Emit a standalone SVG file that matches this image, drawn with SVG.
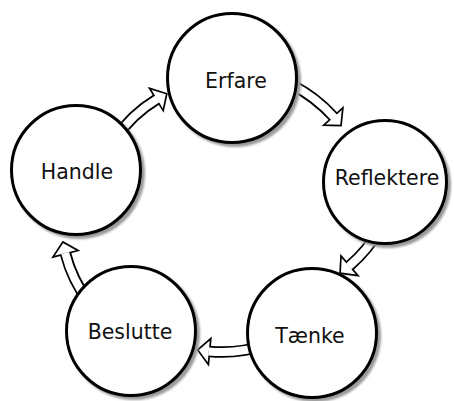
<svg xmlns="http://www.w3.org/2000/svg" width="454" height="401" viewBox="0 0 454 401">
<style>
.band-o{fill:none;stroke:#000;stroke-width:11.5}
.band-i{fill:none;stroke:#fff;stroke-width:8}
.head{fill:#fff;stroke:#000;stroke-width:1.7;stroke-linejoin:miter}
.ring{fill:#fff;stroke:#000;stroke-width:3}
.shade{fill:#9a9a9a;filter:url(#soft)}
.lbl{font-family:"DejaVu Sans",Verdana,sans-serif;font-size:20.5px;fill:#111;text-anchor:middle}
</style>
<defs>
<filter id="soft" x="-10%" y="-10%" width="120%" height="120%"><feGaussianBlur stdDeviation="0.8"/></filter>
</defs>
<rect width="454" height="401" fill="#fff"/>
<g id="connectors">
  <!-- Handle to Erfare -->
  <path class="band-o" d="M114.9 139.1 A134 134 0 0 1 156.4 99.5"/>
  <polygon class="head" points="149.6,88.4 166.8,93.8 163.2,110.6"/>
  <path class="band-i" d="M114.9 139.1 A134 134 0 0 1 157.4 98.9"/>
  <!-- Erfare to Reflektere -->
  <path class="band-o" d="M291.8 84.8 A145 145 0 0 1 333.3 116.5"/>
  <polygon class="head" points="342.9,107.8 341.0,125.7 323.7,125.2"/>
  <path class="band-i" d="M291.8 84.8 A145 145 0 0 1 334.1 117.4"/>
  <!-- Reflektere to Taenke -->
  <path class="band-o" d="M380 229 A142 142 0 0 1 349.5 265.8"/>
  <polygon class="head" points="358.0,275.7 340.1,273.2 341.0,255.9"/>
  <path class="band-i" d="M380 229 A142 142 0 0 1 348.7 266.5"/>
  <!-- Taenke to Beslutte -->
  <path class="band-o" d="M265.3 345.1 A140 140 0 0 1 209.6 351.5"/>
  <polygon class="head" points="208.4,364.5 197.7,349.9 210.8,338.6"/>
  <path class="band-i" d="M265.3 345.1 A140 140 0 0 1 208.6 351.4"/>
  <!-- Beslutte to Handle -->
  <path class="band-o" d="M88.8 302 A138 138 0 0 1 65.5 253.8"/>
  <polygon class="head" points="52.9,257.1 62.9,242.0 78.1,250.5"/>
  <path class="band-i" d="M88.8 302 A138 138 0 0 1 65.2 252.9"/>
</g>
<g id="erfare">
  <circle class="shade" cx="235" cy="81" r="66"/>
  <circle class="ring" cx="232" cy="78" r="64.5"/>
  <text class="lbl" x="236" y="88">Erfare</text>
</g>
<g id="reflektere">
  <circle class="shade" cx="388" cy="185" r="63"/>
  <circle class="ring" cx="385" cy="182" r="61.5"/>
  <text class="lbl" x="387" y="185">Reflektere</text>
</g>
<g id="taenke">
  <circle class="shade" cx="315" cy="336" r="66"/>
  <circle class="ring" cx="312" cy="333" r="64.5"/>
  <text class="lbl" x="310" y="343">Tænke</text>
</g>
<g id="beslutte">
  <circle class="shade" cx="134" cy="334" r="66"/>
  <circle class="ring" cx="131" cy="331" r="64.5"/>
  <text class="lbl" x="130" y="339">Beslutte</text>
</g>
<g id="handle">
  <circle class="shade" cx="79" cy="173" r="66"/>
  <circle class="ring" cx="76" cy="170" r="64.5"/>
  <text class="lbl" x="77" y="179">Handle</text>
</g>
</svg>
